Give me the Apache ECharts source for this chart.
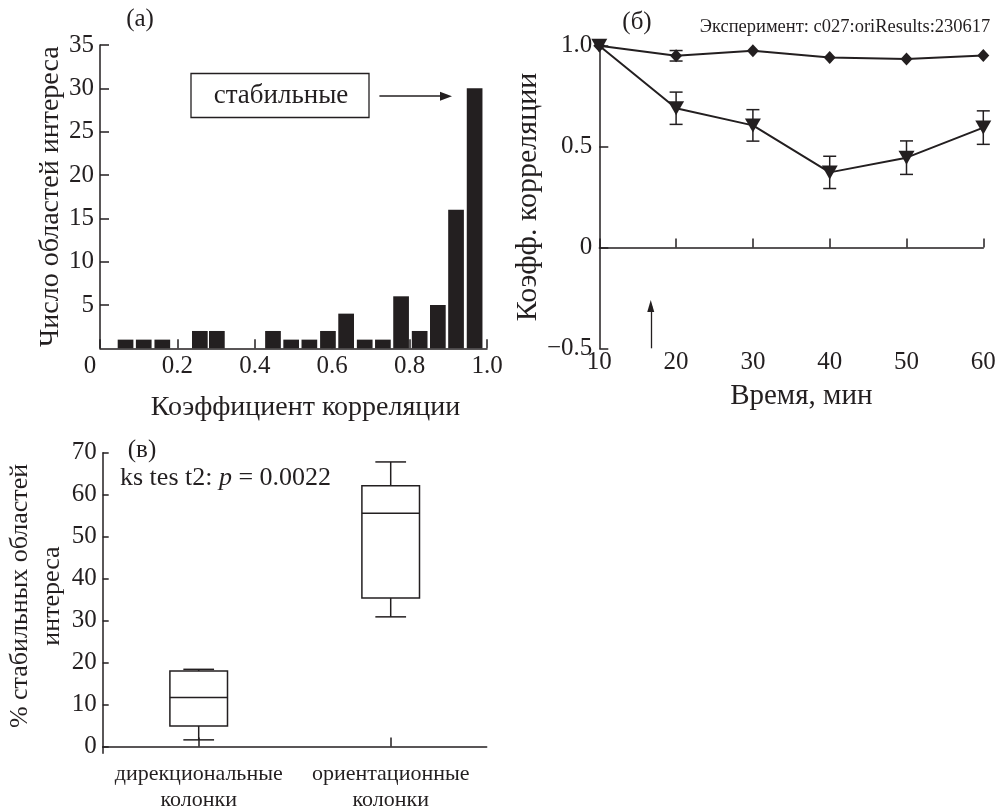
<!DOCTYPE html>
<html>
<head>
<meta charset="utf-8">
<script src="https://cdn.jsdelivr.net/npm/echarts@6/dist/echarts.min.js"></script>
<style>
html, body { margin: 0; padding: 0; background: #fff; }
#main { width: 999px; height: 807px; }
</style>
</head>
<body>
<div id="main"></div>
<script>
// (а) гистограмма коэффициентов корреляции
var binCenters = [0.066, 0.113, 0.161, 0.258, 0.302, 0.447, 0.494, 0.541, 0.589, 0.636, 0.684, 0.731, 0.778, 0.826, 0.873, 0.920, 0.968];
var binCounts = [1, 1, 1, 2, 2, 2, 1, 1, 2, 4, 1, 1, 6, 2, 5, 16, 30];

// (б) коэффициент корреляции во времени
var times = [10, 20, 30, 40, 50, 60];
var stableMean = [1.0, 0.95, 0.975, 0.942, 0.934, 0.952];
var stableErr = [0, 0.026, 0, 0, 0, 0];
var otherMean = [1.0, 0.69, 0.605, 0.372, 0.445, 0.594];
var otherErr = [0, 0.08, 0.078, 0.08, 0.083, 0.083];

// (в) ящики: min, Q1, медиана, Q3, max
var boxCats = ['дирекциональные\nколонки', 'ориентационные\nколонки'];
var boxDir = [1.6, 4.9, 11.7, 18.0, 18.4];
var boxOri = [30.9, 35.4, 55.6, 62.1, 67.8];

var ink = '#231f20';
var font = 'Liberation Serif';

var myChart = echarts.init(document.getElementById('main'));

function axisBase(extra) {
	var o = {
		axisLine: { show: true, lineStyle: { color: ink, width: 1.5 } },
		axisTick: { show: true, inside: true, length: 9, lineStyle: { color: ink, width: 1.5 } },
		axisLabel: { color: ink, fontFamily: font, fontSize: 25 },
		splitLine: { show: false },
		nameTextStyle: { color: ink, fontFamily: font, fontSize: 28 }
	};
	for (var k in extra) {
		if (o[k] && typeof extra[k] === 'object' && !Array.isArray(extra[k])) {
			for (var j in extra[k]) o[k][j] = extra[k][j];
		} else {
			o[k] = extra[k];
		}
	}
	return o;
}

// усы погрешности
function makeErr(means, errs) {
	var out = [];
	times.forEach(function(t, i) {
		if (errs[i] > 0) out.push([t, means[i] - errs[i], means[i] + errs[i]]);
	});
	return out;
}

function renderErr(params, api) {
	var x = api.value(0);
	var p1 = api.coord([x, api.value(1)]);
	var p2 = api.coord([x, api.value(2)]);
	var w = 6.5;
	var st = { stroke: ink, lineWidth: 1.5 };
	return {
		type: 'group',
		children: [
			{ type: 'line', shape: { x1: p1[0], y1: p1[1], x2: p2[0], y2: p2[1] }, style: st },
			{ type: 'line', shape: { x1: p1[0] - w, y1: p1[1], x2: p1[0] + w, y2: p1[1] }, style: st },
			{ type: 'line', shape: { x1: p2[0] - w, y1: p2[1], x2: p2[0] + w, y2: p2[1] }, style: st }
		]
	};
}

function renderBox(params, api) {
	var c = api.value(0);
	var v = [api.value(1), api.value(2), api.value(3), api.value(4), api.value(5)];
	var band = api.size([1, 0])[0];
	var bw = band * 0.15, cw = band * 0.08;
	var p = v.map(function(val) { return api.coord([c, val]); });
	var cx = p[0][0];
	var st = { stroke: ink, lineWidth: 1.5, fill: null };
	return {
		type: 'group',
		children: [
			{ type: 'rect', shape: { x: cx - bw, y: p[3][1], width: bw * 2, height: p[1][1] - p[3][1] }, style: { stroke: ink, lineWidth: 1.5, fill: 'rgba(0,0,0,0)' } },
			{ type: 'line', shape: { x1: cx - bw, y1: p[2][1], x2: cx + bw, y2: p[2][1] }, style: st },
			{ type: 'line', shape: { x1: cx, y1: p[1][1], x2: cx, y2: p[0][1] }, style: st },
			{ type: 'line', shape: { x1: cx, y1: p[3][1], x2: cx, y2: p[4][1] }, style: st },
			{ type: 'line', shape: { x1: cx - cw, y1: p[0][1], x2: cx + cw, y2: p[0][1] }, style: st },
			{ type: 'line', shape: { x1: cx - cw, y1: p[4][1], x2: cx + cw, y2: p[4][1] }, style: st }
		]
	};
}

var option = {
	animation: false,
	backgroundColor: '#fff',
	grid: [
		{ left: 100, top: 45, width: 387, height: 303.3, outerBoundsMode: 'none' },
		{ left: 599.3, top: 45.7, width: 384, height: 302.6, outerBoundsMode: 'none' },
		{ left: 102.7, top: 452.7, width: 384, height: 300.6, outerBoundsMode: 'none' }
	],
	xAxis: [
		axisBase({
			gridIndex: 0, type: 'value', min: 0, max: 1, interval: 0.2,
			axisLabel: {
				margin: 6,
				formatter: function(v) { return v === 0 ? '{z|0}' : v.toFixed(1); },
				rich: { z: { fontFamily: font, fontSize: 25, color: ink, padding: [0, 20, 0, 0] } }
			},
			name: 'Коэффициент корреляции', nameLocation: 'middle', nameGap: 45,
			nameTextStyle: { fontSize: 28, padding: [0, 0, 0, 24] }
		}),
		axisBase({
			gridIndex: 1, type: 'value', min: 10, max: 60, interval: 10,
			axisLabel: { margin: 2 },
			name: 'Время, мин', nameLocation: 'middle', nameGap: 34,
			nameTextStyle: { fontSize: 29, padding: [0, 0, 0, 20] }
		}),
		axisBase({
			gridIndex: 2, type: 'category', data: boxCats,
			axisTick: { alignWithLabel: true },
			axisLabel: { margin: 8, fontSize: 22, lineHeight: 26, interval: 0 }
		})
	],
	yAxis: [
		axisBase({
			gridIndex: 0, type: 'value', min: 0, max: 35, interval: 5,
			axisLabel: { margin: 6, showMinLabel: false },
			name: 'Число областей интереса', nameLocation: 'middle', nameGap: 35,
			nameTextStyle: { fontSize: 28 }
		}),
		axisBase({
			gridIndex: 1, type: 'value', min: -0.5, max: 1, interval: 0.5,
			axisLabel: { margin: 7, formatter: function(v) { return v === 0 ? '0' : (v < 0 ? '\u2212' + (-v).toFixed(1) : v.toFixed(1)); } },
			name: 'Коэфф. корреляции', nameLocation: 'middle', nameGap: 51,
			nameTextStyle: { fontSize: 30 }
		}),
		axisBase({
			gridIndex: 2, type: 'value', min: -1.6, max: 70,
			axisTick: { length: 6, customValues: [0, 10, 20, 30, 40, 50, 60, 70] },
			axisLabel: { margin: 6, customValues: [0, 10, 20, 30, 40, 50, 60, 70] },
			name: '% стабильных областей\nинтереса', nameLocation: 'middle', nameGap: 30,
			nameTextStyle: { fontSize: 26, lineHeight: 32, padding: [0, 0, 0, 14] }
		})
	],
	series: [
		{
			type: 'bar', xAxisIndex: 0, yAxisIndex: 0,
			barWidth: 15.7,
			itemStyle: { color: ink },
			data: binCenters.map(function(x, i) { return [x, binCounts[i]]; }),
			markLine: {
				silent: true, animation: false,
				symbol: ['none', 'triangle'], symbolSize: [9, 12],
				lineStyle: { color: ink, width: 1.5, type: 'solid' },
				label: { show: false },
				data: [[{ coord: [0.722, 29.1] }, { coord: [0.894, 29.1] }]]
			}
		},
		{
			type: 'custom', xAxisIndex: 1, yAxisIndex: 1, z: 2,
			renderItem: renderErr, encode: { x: 0, y: [1, 2] },
			data: makeErr(stableMean, stableErr)
		},
		{
			type: 'custom', xAxisIndex: 1, yAxisIndex: 1, z: 2,
			renderItem: renderErr, encode: { x: 0, y: [1, 2] },
			data: makeErr(otherMean, otherErr)
		},
		{
			type: 'line', xAxisIndex: 1, yAxisIndex: 1, z: 3,
			symbol: 'diamond', symbolSize: [12, 13],
			lineStyle: { color: ink, width: 2 },
			itemStyle: { color: ink },
			data: times.map(function(t, i) { return [t, stableMean[i]]; })
		},
		{
			type: 'line', xAxisIndex: 1, yAxisIndex: 1, z: 3,
			symbol: 'triangle', symbolRotate: 180, symbolSize: [16, 14],
			lineStyle: { color: ink, width: 2 },
			itemStyle: { color: ink },
			data: times.map(function(t, i) { return [t, otherMean[i]]; }),
			markLine: {
				silent: true, animation: false,
				symbol: ['none', 'triangle'], symbolSize: [7, 12],
				lineStyle: { color: ink, width: 1.3, type: 'solid' },
				label: { show: false },
				data: [[{ coord: [16.7, -0.5] }, { coord: [16.7, -0.29] }]]
			}
		},
		{
			type: 'custom', xAxisIndex: 2, yAxisIndex: 2,
			renderItem: renderBox, encode: { x: 0, y: [1, 2, 3, 4, 5] },
			data: [[0].concat(boxDir), [1].concat(boxOri)]
		}
	],
	graphic: [
		{ type: 'text', x: 140, y: 19, style: { text: '(a)', fill: ink, font: '25px "Liberation Serif"', align: 'center', verticalAlign: 'middle' } },
		{ type: 'text', x: 637, y: 22, style: { text: '(б)', fill: ink, font: '25px "Liberation Serif"', align: 'center', verticalAlign: 'middle' } },
		{ type: 'text', x: 845, y: 27, style: { text: 'Эксперимент: c027:oriResults:230617', fill: ink, font: '18.5px "Liberation Serif"', align: 'center', verticalAlign: 'middle' } },
		{ type: 'text', x: 142, y: 450, style: { text: '(в)', fill: ink, font: '25px "Liberation Serif"', align: 'center', verticalAlign: 'middle' } },
		{
			type: 'text', x: 120, y: 478,
			style: {
				text: '{n|ks tes t2: }{i|p}{n| = 0.0022}', verticalAlign: 'middle',
				rich: {
					n: { fill: ink, fontFamily: font, fontSize: 26 },
					i: { fill: ink, fontFamily: font, fontSize: 26, fontStyle: 'italic' }
				}
			}
		},
		{ type: 'rect', shape: { x: 191, y: 73.5, width: 178, height: 44 }, style: { fill: '#fff', stroke: ink, lineWidth: 1.3 } },
		{ type: 'text', x: 281, y: 96, style: { text: 'стабильные', fill: ink, font: '27px "Liberation Serif"', align: 'center', verticalAlign: 'middle' } }
	]
};

myChart.setOption(option);
</script>
</body>
</html>
